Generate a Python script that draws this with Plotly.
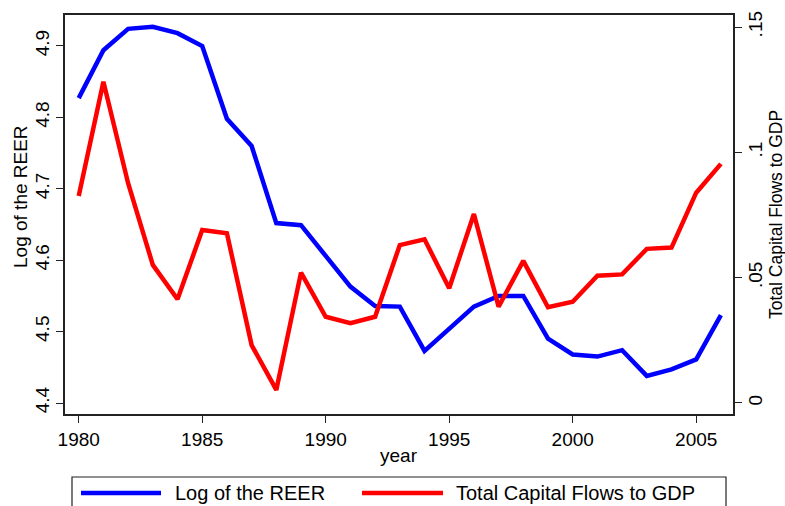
import plotly.graph_objects as go

# Annual series, 1980-2006
years = list(range(1980, 2007))
log_reer = [4.827, 4.894, 4.924, 4.927, 4.918, 4.900, 4.798, 4.760, 4.652, 4.649,
            4.606, 4.563, 4.536, 4.535, 4.473, 4.504, 4.535, 4.550, 4.550, 4.490,
            4.468, 4.465, 4.474, 4.438, 4.447, 4.461, 4.523]
capital_flows_gdp = [0.0826, 0.1282, 0.0877, 0.0551, 0.0414, 0.0690, 0.0677, 0.0231, 0.0052, 0.0520,
                     0.0344, 0.0318, 0.0344, 0.0630, 0.0653, 0.0458, 0.0754, 0.0384, 0.0567, 0.0382,
                     0.0404, 0.0508, 0.0513, 0.0615, 0.0620, 0.0839, 0.0954]

left_ticks = [4.4, 4.5, 4.6, 4.7, 4.8, 4.9]
right_ticks = [0, 0.05, 0.10, 0.15]
right_tick_text = ["0", ".05", ".1", ".15"]
x_ticks = [1980, 1985, 1990, 1995, 2000, 2005]

W, H = 785, 506
ML, MR, MT, MB = 65, 52, 15, 92
PW, PH = W - ML - MR, H - MT - MB


def px_x(p):
    return (p - ML) / PW


def px_y(p):
    return (H - MB - p) / PH


FONT = "Liberation Sans, Arial, sans-serif"
AXIS_COLOR = "#222222"

fig = go.Figure()
fig.add_trace(go.Scatter(x=years, y=log_reer, mode="lines", name="Log of the REER",
                         line=dict(color="#0000ff", width=4.5), yaxis="y"))
fig.add_trace(go.Scatter(x=years, y=capital_flows_gdp, mode="lines", name="Total Capital Flows to GDP",
                         line=dict(color="#ff0000", width=4.5), yaxis="y2"))

fig.update_layout(
    width=W, height=H,
    margin=dict(l=ML, r=MR, t=MT, b=MB),
    paper_bgcolor="white", plot_bgcolor="white",
    showlegend=False,
    font=dict(family=FONT, size=19, color="black"),
    xaxis=dict(range=[1979.445, 2006.49], tickvals=x_ticks, ticks="outside", ticklen=7,
               tickwidth=1.2, tickcolor=AXIS_COLOR, showline=True, linecolor=AXIS_COLOR,
               linewidth=1.5, mirror=True, showgrid=False, zeroline=False,
               tickfont=dict(size=19)),
    yaxis=dict(range=[4.3846, 4.9434], tickvals=left_ticks, ticktext=[f"{v:.1f}" for v in left_ticks],
               ticks="outside", ticklen=7, tickwidth=1.2, tickcolor=AXIS_COLOR, tickangle=-90,
               showline=True, linecolor=AXIS_COLOR, linewidth=1.5, showgrid=False,
               zeroline=False, tickfont=dict(size=19)),
    yaxis2=dict(range=[-0.0044, 0.1548], tickvals=right_ticks, ticktext=right_tick_text,
                overlaying="y", side="right", ticks="outside", ticklen=7, tickwidth=1.2,
                tickcolor=AXIS_COLOR, tickangle=-90, showline=True, linecolor=AXIS_COLOR,
                linewidth=1.5, showgrid=False, zeroline=False, tickfont=dict(size=19),
                ticklabelstandoff=-3),
)

# Axis titles
fig.add_annotation(text="year", xref="paper", yref="paper", x=px_x(399), y=px_y(456),
                   showarrow=False, font=dict(size=19), xanchor="center", yanchor="middle")
fig.add_annotation(text="Log of the REER", xref="paper", yref="paper", x=px_x(20), y=px_y(197),
                   showarrow=False, textangle=-90, font=dict(size=19),
                   xanchor="center", yanchor="middle")
fig.add_annotation(text="Total Capital Flows to GDP", xref="paper", yref="paper",
                   x=px_x(776), y=px_y(215), showarrow=False, textangle=-90,
                   font=dict(size=17.5), xanchor="center", yanchor="middle")

# Legend box with line keys
fig.add_shape(type="rect", xref="paper", yref="paper", x0=px_x(72), x1=px_x(726),
              y0=px_y(477), y1=px_y(515), line=dict(color=AXIS_COLOR, width=1.2),
              fillcolor="white")
legend_items = [("Log of the REER", "#0000ff", 81, 161, 173),
                ("Total Capital Flows to GDP", "#ff0000", 362, 443, 454)]
for label, color, lx0, lx1, tx in legend_items:
    fig.add_shape(type="line", xref="paper", yref="paper", x0=px_x(lx0), x1=px_x(lx1),
                  y0=px_y(493), y1=px_y(493), line=dict(color=color, width=4.5))
    fig.add_annotation(text=label, xref="paper", yref="paper", x=px_x(tx), y=px_y(493),
                       showarrow=False, font=dict(size=20), xanchor="left", yanchor="middle")

fig.write_html("out.html")
